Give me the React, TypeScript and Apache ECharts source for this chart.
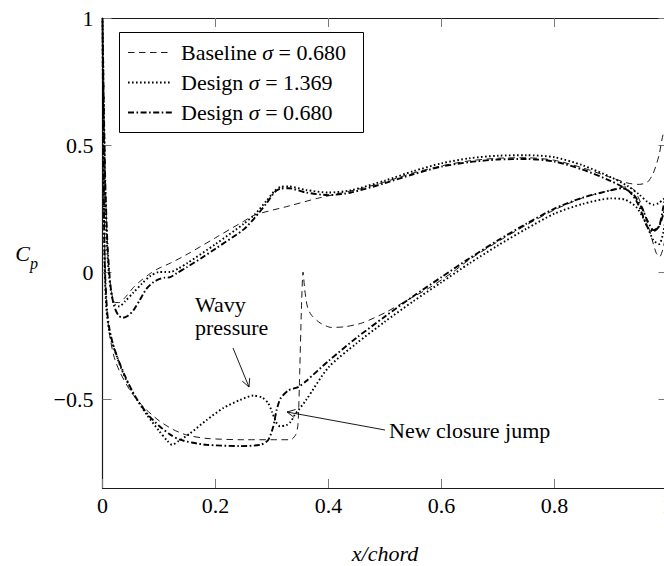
import React, { useEffect, useRef } from "react";
import * as echarts from "echarts";

// x/chord, Cp — upper branch (leading edge -> trailing edge)
const baselineUpper: number[][] = [
  [0, 1], [0.002, 0.72], [0.004, 0.45], [0.007, 0.2], [0.011, 0.02], [0.016, -0.08], [0.022, -0.12],
  [0.03, -0.12], [0.04, -0.1], [0.055, -0.06], [0.07, -0.03], [0.085, -0.005], [0.1, 0.015], [0.12, 0.035],
  [0.15, 0.07], [0.2, 0.135], [0.25, 0.2], [0.27, 0.225], [0.33, 0.26], [0.38, 0.29], [0.42, 0.31],
  [0.46, 0.33], [0.5, 0.355], [0.55, 0.39], [0.6, 0.418], [0.65, 0.438], [0.7, 0.448], [0.75, 0.45],
  [0.8, 0.44], [0.85, 0.41], [0.9, 0.372], [0.93, 0.35], [0.95, 0.345], [0.965, 0.355], [0.975, 0.39],
  [0.985, 0.46], [0.992, 0.54], [1.0, 0.58],
];
const baselineLower: number[][] = [
  [0, 1], [0.0015, 0.6], [0.003, 0.25], [0.005, 0.0], [0.008, -0.15], [0.012, -0.24], [0.02, -0.33],
  [0.03, -0.39], [0.05, -0.47], [0.072, -0.53], [0.1, -0.585], [0.125, -0.62], [0.15, -0.642],
  [0.185, -0.655], [0.25, -0.66], [0.3, -0.66], [0.333, -0.66], [0.342, -0.64], [0.346, -0.6],
  [0.349, -0.4], [0.352, -0.15], [0.355, 0.0], [0.358, -0.07], [0.363, -0.14], [0.37, -0.17],
  [0.385, -0.2], [0.405, -0.218], [0.43, -0.215], [0.46, -0.2], [0.5, -0.16], [0.54, -0.11],
  [0.58, -0.06], [0.62, 0.0], [0.65, 0.05], [0.7, 0.12], [0.75, 0.185], [0.8, 0.245], [0.85, 0.292],
  [0.9, 0.322], [0.925, 0.335], [0.94, 0.325], [0.955, 0.26], [0.97, 0.15], [0.98, 0.075],
  [0.986, 0.06], [0.993, 0.1], [1.0, 0.2],
];
const design1369Upper: number[][] = [
  [0, 1], [0.002, 0.7], [0.004, 0.4], [0.007, 0.15], [0.011, 0.0], [0.016, -0.09], [0.022, -0.13],
  [0.03, -0.135], [0.04, -0.115], [0.055, -0.08], [0.07, -0.045], [0.085, -0.015], [0.1, 0.0],
  [0.11, 0.0], [0.12, 0.0], [0.135, 0.015], [0.15, 0.035], [0.2, 0.11], [0.25, 0.19], [0.27, 0.228],
  [0.29, 0.28], [0.305, 0.32], [0.315, 0.335], [0.33, 0.337], [0.36, 0.323], [0.4, 0.313],
  [0.44, 0.322], [0.5, 0.36], [0.55, 0.397], [0.6, 0.428], [0.65, 0.448], [0.7, 0.458], [0.75, 0.46],
  [0.8, 0.452], [0.85, 0.42], [0.9, 0.373], [0.93, 0.338], [0.95, 0.305], [0.965, 0.275],
  [0.975, 0.265], [0.985, 0.272], [1.0, 0.3],
];
const design1369Lower: number[][] = [
  [0, 1], [0.0012, 0.6], [0.0025, 0.25], [0.004, 0.0], [0.007, -0.15], [0.011, -0.22], [0.016, -0.27],
  [0.025, -0.33], [0.037, -0.4], [0.055, -0.48], [0.078, -0.56], [0.1, -0.625], [0.115, -0.665],
  [0.123, -0.68], [0.135, -0.665], [0.155, -0.635], [0.184, -0.583], [0.214, -0.535], [0.243, -0.504],
  [0.267, -0.486], [0.283, -0.494], [0.293, -0.515], [0.3, -0.55], [0.307, -0.59], [0.314, -0.607],
  [0.325, -0.603], [0.333, -0.59], [0.34, -0.563], [0.36, -0.505], [0.4, -0.375], [0.45, -0.28],
  [0.5, -0.195], [0.55, -0.115], [0.6, -0.04], [0.65, 0.035], [0.7, 0.105], [0.75, 0.17], [0.8, 0.23],
  [0.85, 0.268], [0.9, 0.29], [0.925, 0.285], [0.945, 0.255], [0.96, 0.2], [0.975, 0.125],
  [0.985, 0.11], [0.993, 0.16], [1.0, 0.27],
];
const design0680Upper: number[][] = [
  [0, 1], [0.002, 0.7], [0.005, 0.35], [0.009, 0.1], [0.014, -0.05], [0.02, -0.13], [0.028, -0.17],
  [0.036, -0.18], [0.045, -0.172], [0.055, -0.15], [0.066, -0.11], [0.078, -0.065], [0.09, -0.04],
  [0.1, -0.028], [0.11, -0.022], [0.12, -0.02], [0.131, -0.005], [0.15, 0.02], [0.175, 0.055],
  [0.2, 0.092], [0.25, 0.168], [0.27, 0.215], [0.29, 0.27], [0.305, 0.315], [0.315, 0.328],
  [0.33, 0.33], [0.36, 0.313], [0.4, 0.303], [0.44, 0.313], [0.5, 0.35], [0.55, 0.385], [0.6, 0.415],
  [0.65, 0.433], [0.7, 0.443], [0.75, 0.445], [0.8, 0.435], [0.85, 0.403], [0.9, 0.358], [0.93, 0.322],
  [0.945, 0.28], [0.955, 0.23], [0.965, 0.175], [0.975, 0.16], [0.985, 0.18], [0.993, 0.23], [1.0, 0.27],
];
const design0680Lower: number[][] = [
  [0, 1], [0.0012, 0.6], [0.0025, 0.25], [0.0045, 0.0], [0.008, -0.15], [0.012, -0.22], [0.018, -0.28],
  [0.027, -0.34], [0.04, -0.41], [0.058, -0.49], [0.08, -0.56], [0.1, -0.605], [0.12, -0.64],
  [0.137, -0.66], [0.16, -0.672], [0.184, -0.68], [0.243, -0.685], [0.279, -0.68], [0.293, -0.662],
  [0.302, -0.61], [0.308, -0.545], [0.315, -0.498], [0.329, -0.466], [0.347, -0.452], [0.36, -0.43],
  [0.4, -0.35], [0.45, -0.258], [0.5, -0.175], [0.55, -0.095], [0.6, -0.02], [0.65, 0.055], [0.7, 0.125],
  [0.75, 0.19], [0.8, 0.25], [0.85, 0.293], [0.9, 0.322], [0.92, 0.33], [0.94, 0.305], [0.955, 0.25],
  [0.965, 0.2], [0.975, 0.165], [0.985, 0.18], [0.993, 0.26], [1.0, 0.33],
];

const seriesNames = ["Baseline", "Design", "Design"];
const sigmaLabels = ["0.680", "1.369", "0.680"];
const xTicks = [0, 0.2, 0.4, 0.6, 0.8, 1];
const yTicks = [-0.5, 0, 0.5, 1];
const annotationWavy = ["Wavy", "pressure"];
const annotationJump = "New closure jump";

const FONT = '"Liberation Serif", "Times New Roman", serif';
const dashStyles: number[][] = [[6.5, 4.5], [1.6, 2.4], [6, 2.5, 1.6, 2.5]];
const widths = [0.9, 1.9, 1.9];

const loop = (u: number[][], l: number[][]) => [...u.slice().reverse(), ...l.slice(1)];

function arrow(x1: number, y1: number, x2: number, y2: number) {
  const dx = x2 - x1, dy = y2 - y1;
  const len = Math.hypot(dx, dy);
  const ux = dx / len, uy = dy / len;
  const px = -uy, py = ux;
  const a = 8, b = 4;
  return [
    { type: "line", shape: { x1, y1, x2, y2 }, style: { stroke: "#000", lineWidth: 0.9 }, z: 100 },
    {
      type: "polyline",
      shape: {
        points: [
          [x2 - a * ux + b * px, y2 - a * uy + b * py],
          [x2, y2],
          [x2 - a * ux - b * px, y2 - a * uy - b * py],
        ],
      },
      style: { stroke: "#000", lineWidth: 0.9, fill: null },
      z: 100,
    },
  ];
}

export default function App() {
  const ref = useRef<HTMLDivElement>(null);
  useEffect(() => {
    if (!ref.current) return;
    const chart = echarts.init(ref.current, null, { renderer: "svg" });
    const gl = 102.5, gt = 18, gw = 565, gh = 470;
    const tickStyle = { color: "#7a7a7a", width: 1 };
    const lineStyleAxis = { color: "#1a1a1a", width: 1.2 };
    const fmtX = (v: number) => String(Math.round(v * 10) / 10);
    const fmtY = (v: number) => (v < 0 ? "\u2212" + String(Math.abs(v)) : String(v));
    const datas = [
      loop(baselineUpper, baselineLower),
      loop(design1369Upper, design1369Lower),
      loop(design0680Upper, design0680Lower),
    ];
    const legendX = 119.5, legendY = 32.5, legendW = 244, legendH = 100;
    const legendGraphics: any[] = [
      {
        type: "rect",
        shape: { x: legendX, y: legendY, width: legendW, height: legendH },
        style: { fill: "#fff", stroke: "#000", lineWidth: 1 },
        z: 100,
      },
    ];
    seriesNames.forEach((n, i) => {
      const y = 52.5 + i * 30;
      legendGraphics.push({
        type: "line",
        shape: { x1: 128, y1: y, x2: 172, y2: y },
        style: { stroke: "#000", lineWidth: widths[i], lineDash: dashStyles[i] },
        z: 101,
      });
      legendGraphics.push({
        type: "text",
        x: 181,
        y: y,
        style: {
          text: n + " {s|\u03C3} = " + sigmaLabels[i],
          font: `22px ${FONT}`,
          fill: "#000",
          verticalAlign: "middle",
          rich: { s: { fontStyle: "italic", fontSize: 22, fontFamily: FONT } },
        },
        z: 101,
      });
    });

    const axisCommon = (extra: any) => ({
      type: "value",
      axisLine: { show: true, onZero: false, lineStyle: lineStyleAxis },
      splitLine: { show: false },
      ...extra,
    });

    const option: any = {
      animation: false,
      grid: {
        left: gl, top: gt, width: gw, height: gh,
        containLabel: false, outerBoundsMode: "none",
      },
      xAxis: [
        axisCommon({
          min: 0, max: 1, interval: 0.2, position: "bottom",
          axisTick: { show: true, inside: true, length: 9, lineStyle: tickStyle, customValues: xTicks },
          axisLabel: {
            show: true, margin: 6, color: "#000", fontFamily: FONT, fontSize: 22,
            formatter: fmtX, customValues: xTicks,
          },
        }),
        axisCommon({
          min: 0, max: 1, interval: 0.2, position: "top",
          axisTick: { show: true, inside: true, length: 9, lineStyle: tickStyle, customValues: xTicks },
          axisLabel: { show: false },
        }),
      ],
      yAxis: [
        axisCommon({
          min: -0.85, max: 1, position: "left",
          axisTick: { show: true, inside: true, length: 9, lineStyle: tickStyle, customValues: yTicks },
          axisLabel: {
            show: true, margin: 9, color: "#000", fontFamily: FONT, fontSize: 22,
            formatter: fmtY, customValues: yTicks,
          },
        }),
        axisCommon({
          min: -0.85, max: 1, position: "right",
          axisTick: { show: true, inside: true, length: 9, lineStyle: tickStyle, customValues: yTicks },
          axisLabel: { show: false },
        }),
      ],
      series: datas.map((d, i) => ({
        name: seriesNames[i] + " " + sigmaLabels[i],
        type: "line",
        data: d,
        xAxisIndex: 0,
        yAxisIndex: 0,
        showSymbol: false,
        symbol: "none",
        smooth: 0.25,
        lineStyle: { color: "#000", width: widths[i], type: dashStyles[i], cap: "butt" },
        z: 2 + i,
      })),
      graphic: [
        ...legendGraphics,
        {
          type: "text", x: 30, y: 253,
          style: { text: "C", font: `italic 22px ${FONT}`, fill: "#000", align: "right", verticalAlign: "middle" },
        },
        {
          type: "text", x: 30, y: 263,
          style: { text: "p", font: `italic 16px ${FONT}`, fill: "#000", align: "left", verticalAlign: "middle" },
        },
        {
          type: "text", x: 385, y: 553,
          style: { text: "x/chord", font: `italic 22px ${FONT}`, fill: "#000", align: "center", verticalAlign: "middle" },
        },
        {
          type: "text", x: 195, y: 304,
          style: { text: annotationWavy[0], font: `22px ${FONT}`, fill: "#000", align: "left", verticalAlign: "middle" },
          z: 100,
        },
        {
          type: "text", x: 195, y: 327,
          style: { text: annotationWavy[1], font: `22px ${FONT}`, fill: "#000", align: "left", verticalAlign: "middle" },
          z: 100,
        },
        ...arrow(233, 348, 249, 387),
        {
          type: "text", x: 389, y: 430,
          style: { text: annotationJump, font: `22px ${FONT}`, fill: "#000", align: "left", verticalAlign: "middle" },
          z: 100,
        },
        ...arrow(385, 430, 287, 412),
      ],
    };
    chart.setOption(option);
    return () => chart.dispose();
  }, []);
  return (
    <div
      ref={ref}
      style={{ position: "fixed", left: 0, top: 0, width: 664, height: 566, background: "#fff" }}
    />
  );
}
